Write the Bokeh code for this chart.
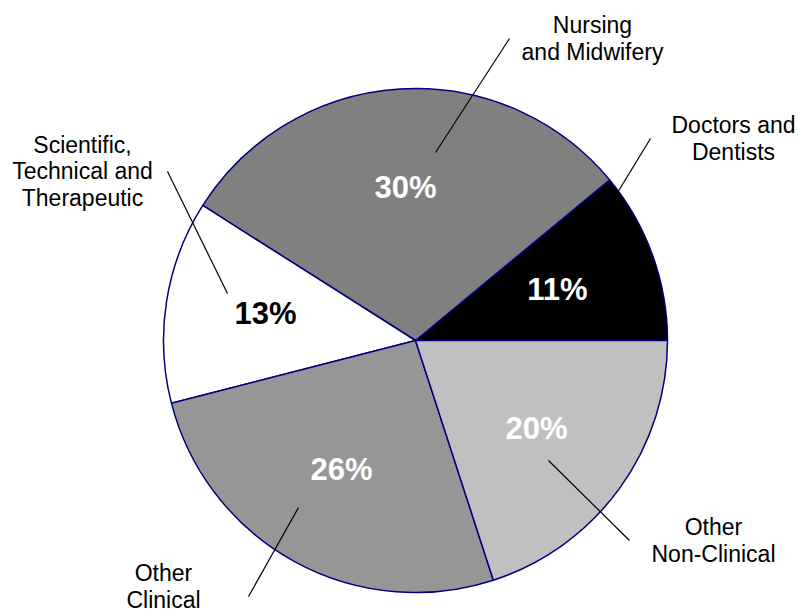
import numpy as np
from bokeh.plotting import figure
from bokeh.models import Range1d, ColumnDataSource
from bokeh.core.properties import value
from bokeh.embed import file_html
from bokeh.resources import INLINE

# ---- data ----
categories = ["Doctors and\nDentists", "Nursing\nand Midwifery", "Scientific,\nTechnical and\nTherapeutic",
              "Other\nClinical", "Other\nNon-Clinical"]
shares = [11, 30, 13, 26, 20]
pct_labels = ["11%", "30%", "13%", "26%", "20%"]
colors = ["#000000", "#808080", "#FFFFFF", "#969696", "#C0C0C0"]
pct_colors = ["#FFFFFF", "#FFFFFF", "#000000", "#FFFFFF", "#FFFFFF"]

# ---- layout (pixel positions, y from top) ----
W, H = 798, 616
cx, cy, R = 415, 340, 252
pct_pos = [(557, 289), (405, 187), (265, 313), (341, 469), (536, 428)]
label_pos = [(733, 138), (592, 38), (82, 171), (163, 586), (713, 540)]
leaders = [((650, 138), (611, 202)), ((509, 38), (435, 152)), ((167, 171), (227, 293)),
           ((298, 507), (248, 596)), ((548, 460), (629, 540))]

def fy(py):
    return H - py

frac = np.array(shares, dtype=float) / sum(shares)
ends = np.cumsum(frac) * 2 * np.pi
starts = np.concatenate([[0.0], ends[:-1]])

p = figure(width=W, height=H, output_backend="svg", toolbar_location=None,
           x_range=Range1d(0, W), y_range=Range1d(0, H), min_border=0)
p.axis.visible = False
p.grid.visible = False
p.outline_line_color = None
p.background_fill_color = "white"
p.border_fill_color = "white"

src = ColumnDataSource(dict(start=starts, end=ends, color=colors))
p.wedge(x=cx, y=fy(cy), radius=R, start_angle="start", end_angle="end",
        fill_color="color", line_color="#000080", line_width=1.5, source=src)

# leader lines
p.segment(x0=[a[0] for a, b in leaders], y0=[fy(a[1]) for a, b in leaders],
          x1=[b[0] for a, b in leaders], y1=[fy(b[1]) for a, b in leaders],
          line_color="black", line_width=1.2)

# percentage labels
p.text(x=[q[0] for q in pct_pos], y=[fy(q[1]) for q in pct_pos], text=pct_labels,
       text_color=pct_colors, text_font=value("Liberation Sans"), text_font_style="bold",
       text_font_size="31px", text_align="center", text_baseline="middle")

# category labels
p.text(x=[q[0] for q in label_pos], y=[fy(q[1]) for q in label_pos], text=categories,
       text_color="black", text_font=value("Liberation Sans"),
       text_font_size="23px", text_align="center", text_baseline="middle",
       text_line_height=1.02)

open("out.html", "w").write(file_html(p, INLINE))
